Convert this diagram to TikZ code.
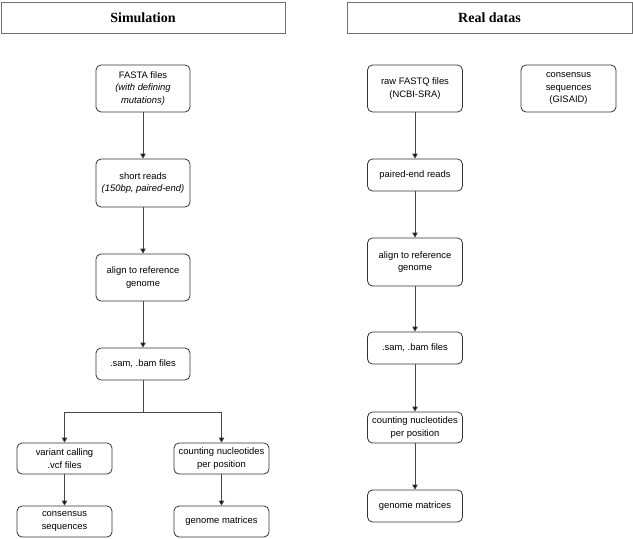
\documentclass[tikz,border=0pt]{standalone}
\usepackage{fontspec}
\setmainfont{Liberation Sans}
\newfontfamily\headfont{Liberation Serif}
\usetikzlibrary{arrows.meta}
\definecolor{boxline}{HTML}{333333}
\definecolor{headline}{HTML}{707070}
\tikzset{
  stepbox/.style={draw=boxline, line width=0.8pt, rounded corners=5pt, align=center,
    inner sep=0pt, font=\fontsize{9.4}{12.3}\selectfont, text=black},
  headbox/.style={draw=headline, line width=0.9pt, minimum width=284pt, minimum height=31pt,
    inner sep=0pt, font=\headfont\bfseries\fontsize{14}{16}\selectfont},
  flow/.style={draw=boxline!90, line width=0.8pt, -{Triangle[length=5pt,width=5.5pt,fill=black]}},
  link/.style={draw=boxline!90, line width=0.8pt},
}
\begin{document}
\begin{tikzpicture}[x=1pt,y=-1pt]
\useasboundingbox (0,0) rectangle (633,539);
% headers
\node[headbox] (hsim) at (143,17.5) {Simulation};
\node[headbox, minimum width=285pt] (hreal) at (489.5,17.5) {Real datas};
% simulation column
\node[stepbox, minimum width=94pt, minimum height=47pt] (fasta) at (143,88.5) {FASTA files\\\textit{(with defining}\\\textit{mutations)}};
\node[stepbox, minimum width=94pt, minimum height=48pt] (short) at (143,183) {short reads\\\textit{(150bp, paired-end)}};
\node[stepbox, minimum width=94pt, minimum height=47pt] (alignL) at (143,277.5) {align to reference\\genome};
\node[stepbox, minimum width=94pt, minimum height=32pt] (samL) at (143,364) {.sam, .bam files};
\node[stepbox, minimum width=95pt, minimum height=31pt] (variant) at (64.5,458.5) {variant calling\\.vcf files};
\node[stepbox, minimum width=95pt, minimum height=31pt] (countL) at (221.5,458.5) {counting nucleotides\\per position};
\node[stepbox, minimum width=95pt, minimum height=31pt] (consL) at (64.5,521.5) {consensus\\sequences};
\node[stepbox, minimum width=95pt, minimum height=31pt] (genL) at (221.5,521.5) {genome matrices};
\coordinate (split) at (143,412);
% real data column
\node[stepbox, minimum width=95pt, minimum height=47pt] (raw) at (415,88.5) {raw FASTQ files\\(NCBI-SRA)};
\node[stepbox, minimum width=95pt, minimum height=47pt] (gisaid) at (568.5,88.5) {consensus\\sequences\\(GISAID)};
\node[stepbox, minimum width=95pt, minimum height=32pt] (paired) at (415,175) {paired-end reads};
\node[stepbox, minimum width=95pt, minimum height=48pt] (alignR) at (415,262) {align to reference\\genome};
\node[stepbox, minimum width=95pt, minimum height=32pt] (samR) at (415,348) {.sam, .bam files};
\node[stepbox, minimum width=95pt, minimum height=31pt] (countR) at (415,427.5) {counting nucleotides\\per position};
\node[stepbox, minimum width=95pt, minimum height=32pt] (genR) at (415,506) {genome matrices};
% connectors
\draw[flow] (fasta) -- (short);
\draw[flow] (short) -- (alignL);
\draw[flow] (alignL) -- (samL);
\draw[link] (samL) -- (split);
\draw[flow] (split) -| (variant.north);
\draw[flow] (split) -| (countL.north);
\draw[flow] (variant) -- (consL);
\draw[flow] (countL) -- (genL);
\draw[flow] (raw) -- (paired);
\draw[flow] (paired) -- (alignR);
\draw[flow] (alignR) -- (samR);
\draw[flow] (samR) -- (countR);
\draw[flow] (countR) -- (genR);
\end{tikzpicture}
\end{document}
